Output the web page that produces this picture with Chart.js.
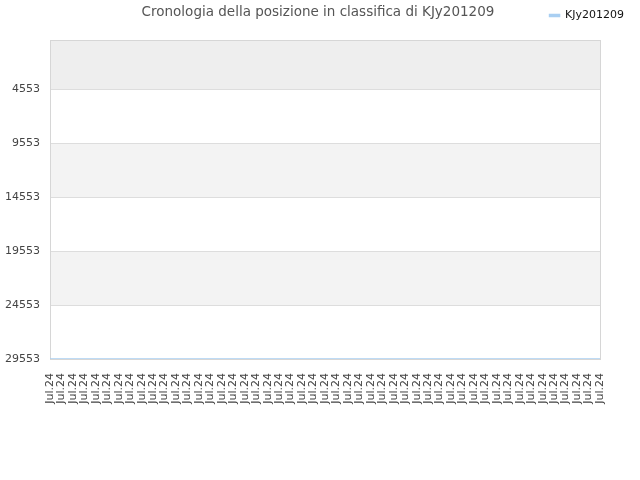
<!DOCTYPE html>
<html><head><meta charset="utf-8">
<script src="https://cdn.jsdelivr.net/npm/chart.js@4"></script>
<style>html,body{margin:0;padding:0;background:#fff}#wrap{width:640px;height:480px}</style>
</head><body><div id="wrap"><canvas id="c" width="640" height="480"></canvas></div>
<script>
const titleText = 'Cronologia della posizione in classifica di KJy201209';
const seriesName = 'KJy201209';
const categories = [
 'Jul.24','Jul.24','Jul.24','Jul.24','Jul.24','Jul.24','Jul.24','Jul.24','Jul.24','Jul.24',
 'Jul.24','Jul.24','Jul.24','Jul.24','Jul.24','Jul.24','Jul.24','Jul.24','Jul.24','Jul.24',
 'Jul.24','Jul.24','Jul.24','Jul.24','Jul.24','Jul.24','Jul.24','Jul.24','Jul.24','Jul.24',
 'Jul.24','Jul.24','Jul.24','Jul.24','Jul.24','Jul.24','Jul.24','Jul.24','Jul.24','Jul.24',
 'Jul.24','Jul.24','Jul.24','Jul.24','Jul.24','Jul.24','Jul.24','Jul.24','Jul.24'
];
const ranks = [
 29553,29553,29553,29553,29553,29553,29553,29553,29553,29553,
 29553,29553,29553,29553,29553,29553,29553,29553,29553,29553,
 29553,29553,29553,29553,29553,29553,29553,29553,29553,29553,
 29553,29553,29553,29553,29553,29553,29553,29553,29553,29553,
 29553,29553,29553,29553,29553,29553,29553,29553,29553
];
const yTicks = [4553, 9553, 14553, 19553, 24553, 29553];
const yMin = 0;
const yMax = 29553;
const bandEdges = [0, 4553, 9553, 14553, 19553, 24553, 29553];
const bandColors = ['#eeeeee', '#ffffff', '#f3f3f3', '#ffffff', '#f3f3f3', '#ffffff'];

const bandsPlugin = {
  id: 'bands',
  beforeDraw(chart) {
    const {ctx, chartArea: a, scales: {y}} = chart;
    ctx.save();
    for (let i = 0; i < bandColors.length; i++) {
      const p1 = y.getPixelForValue(bandEdges[i]);
      const p2 = y.getPixelForValue(bandEdges[i + 1]);
      ctx.fillStyle = bandColors[i];
      ctx.fillRect(a.left, Math.min(p1, p2), a.right - a.left, Math.abs(p2 - p1));
    }
    ctx.restore();
  },
  beforeDatasetsDraw(chart) {
    const {ctx, chartArea: a} = chart;
    ctx.save();
    ctx.strokeStyle = '#d6d6d6';
    ctx.lineWidth = 1;
    ctx.strokeRect(Math.round(a.left) + 0.5, Math.round(a.top) + 0.5,
      Math.round(a.right - a.left), Math.round(a.bottom - a.top));
    ctx.restore();
  },
  afterLayout(chart) {
    if (chart.legend) { chart.legend.right = 634; }
  },
  afterDraw(chart) {
    const ctx = chart.ctx;
    ctx.save();
    ctx.font = '13.5px "DejaVu Sans"';
    ctx.fillStyle = '#555555';
    ctx.textAlign = 'center';
    ctx.textBaseline = 'middle';
    ctx.fillText(titleText, 318, 12);
    ctx.restore();
  }
};

const font11 = {family: 'DejaVu Sans', size: 11};

new Chart(document.getElementById('c'), {
  type: 'line',
  data: {
    labels: categories,
    datasets: [{
      label: seriesName,
      data: ranks,
      borderColor: '#a9cff2',
      backgroundColor: '#a9cff2',
      borderWidth: 1.5,
      pointRadius: 0,
      tension: 0,
      fill: false
    }]
  },
  options: {
    responsive: false,
    animation: false,
    devicePixelRatio: 1,
    layout: {padding: 0},
    plugins: {
      title: {display: false},
      tooltip: {enabled: false},
      legend: {
        display: true, position: 'top', align: 'end',
        labels: {boxWidth: 10, boxHeight: 2, padding: 10, color: '#111111', font: font11}
      }
    },
    scales: {
      x: {
        grid: {display: false, drawTicks: false},
        border: {display: false},
        ticks: {autoSkip: false, maxRotation: 90, minRotation: 90, padding: 14, color: '#444444', font: font11},
        afterFit(s) { s.height = 121; s.paddingLeft = 0; s.paddingRight = 0; }
      },
      xTop: {
        type: 'category', position: 'top', display: true,
        grid: {display: false, drawTicks: false},
        border: {display: false},
        ticks: {display: false},
        afterFit(s) { s.height = 9; s.paddingLeft = 0; s.paddingRight = 0; }
      },
      y: {
        reverse: true, min: yMin, max: yMax,
        afterBuildTicks(s) { s.ticks = yTicks.map(v => ({value: v})); },
        grid: {color: '#dddddd', drawTicks: false},
        border: {display: false},
        ticks: {padding: 10, color: '#444444', font: font11, callback: v => String(v)},
        afterFit(s) { s.width = 50; }
      },
      y2: {
        position: 'right', display: true,
        grid: {display: false, drawTicks: false},
        border: {display: false},
        ticks: {display: false},
        afterFit(s) { s.width = 40; }
      }
    }
  },
  plugins: [bandsPlugin]
});
</script>
</body></html>
